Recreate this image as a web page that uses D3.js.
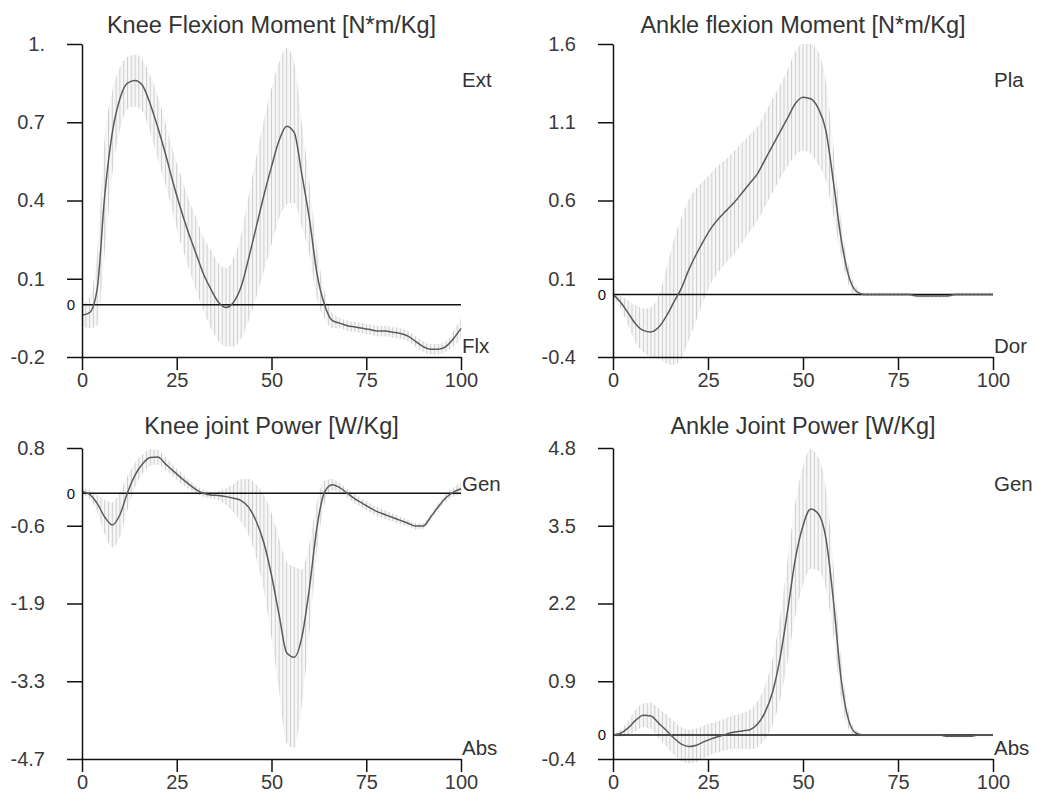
<!DOCTYPE html>
<html>
<head>
<meta charset="utf-8">
<script src="https://cdnjs.cloudflare.com/ajax/libs/d3/7.8.5/d3.min.js"></script>
<style>
  body { margin: 0; background: #fff; }
  svg { display: block; font-family: "Liberation Sans", Arial, sans-serif; }
</style>
</head>
<body>
<svg id="chart"></svg>
<script>
// % of gait cycle, sampled every 2%
const pct = d3.range(0, 101, 2);
const xTicks = [0, 25, 50, 75, 100];

// knee flexion moment [N*m/Kg]
const kneeMomentMean = [-0.04, -0.03, 0.06, 0.42, 0.66, 0.79, 0.85, 0.86, 0.84, 0.77,
  0.68, 0.58, 0.47, 0.37, 0.28, 0.20, 0.12, 0.06, 0.01, -0.01,
  0.01, 0.07, 0.18, 0.30, 0.42, 0.53, 0.63, 0.685, 0.66, 0.50,
  0.33, 0.12, 0.0, -0.06, -0.07, -0.08, -0.085, -0.09, -0.095, -0.10,
  -0.10, -0.105, -0.11, -0.12, -0.14, -0.16, -0.17, -0.17, -0.16, -0.13, -0.09];
const kneeMomentSd = [0.04, 0.06, 0.14, 0.22, 0.16, 0.12, 0.10, 0.10, 0.10, 0.11,
  0.12, 0.12, 0.12, 0.13, 0.13, 0.14, 0.14, 0.15, 0.15, 0.15,
  0.17, 0.20, 0.24, 0.27, 0.29, 0.30, 0.30, 0.30, 0.27, 0.20,
  0.14, 0.10, 0.05, 0.03, 0.02, 0.02, 0.02, 0.02, 0.02, 0.02,
  0.02, 0.02, 0.02, 0.02, 0.02, 0.02, 0.02, 0.02, 0.02, 0.03, 0.04];

// ankle flexion moment [N*m/Kg]
const ankleMomentMean = [0.0, -0.05, -0.12, -0.19, -0.23, -0.24, -0.21, -0.14, -0.05, 0.04,
  0.16, 0.26, 0.35, 0.43, 0.49, 0.54, 0.59, 0.65, 0.71, 0.77,
  0.86, 0.95, 1.04, 1.13, 1.22, 1.26, 1.25, 1.19, 1.05, 0.72,
  0.36, 0.12, 0.02, 0.0, 0.0, 0.0, 0.0, 0.0, 0.0, 0.0,
  -0.01, -0.01, -0.01, -0.01, -0.01, 0.0, 0.0, 0.0, 0.0, 0.0, 0.0];
const ankleMomentSd = [0.01, 0.04, 0.08, 0.12, 0.14, 0.16, 0.20, 0.30, 0.40, 0.45,
  0.45, 0.42, 0.38, 0.35, 0.34, 0.33, 0.33, 0.32, 0.31, 0.30,
  0.30, 0.30, 0.30, 0.31, 0.33, 0.34, 0.35, 0.36, 0.32, 0.22,
  0.12, 0.06, 0.03, 0.01, 0.01, 0.01, 0.01, 0.01, 0.01, 0.01,
  0.01, 0.01, 0.01, 0.01, 0.01, 0.01, 0.01, 0.01, 0.01, 0.01, 0.01];

// knee joint power [W/Kg]
const kneePowerMean = [0.03, -0.02, -0.18, -0.42, -0.56, -0.38, 0.01, 0.32, 0.52, 0.63,
  0.64, 0.52, 0.40, 0.28, 0.17, 0.07, 0.0, -0.03, -0.04, -0.06,
  -0.09, -0.13, -0.25, -0.50, -0.88, -1.45, -2.15, -2.82, -2.90, -2.55,
  -1.68, -0.60, 0.02, 0.15, 0.10, 0.0, -0.10, -0.18, -0.26, -0.33,
  -0.38, -0.43, -0.48, -0.53, -0.58, -0.58, -0.42, -0.24, -0.08, 0.02, 0.08];
const kneePowerSd = [0.05, 0.08, 0.15, 0.30, 0.40, 0.40, 0.30, 0.22, 0.17, 0.15,
  0.13, 0.12, 0.10, 0.10, 0.08, 0.07, 0.06, 0.06, 0.08, 0.15,
  0.25, 0.38, 0.50, 0.65, 0.85, 1.10, 1.35, 1.60, 1.60, 1.20,
  0.80, 0.45, 0.20, 0.10, 0.08, 0.08, 0.08, 0.08, 0.08, 0.08,
  0.08, 0.07, 0.07, 0.06, 0.06, 0.05, 0.05, 0.06, 0.07, 0.08, 0.10];

// ankle joint power [W/Kg]
const anklePowerMean = [0.0, 0.03, 0.12, 0.25, 0.33, 0.32, 0.20, 0.08, -0.05, -0.15,
  -0.19, -0.17, -0.11, -0.06, -0.02, 0.02, 0.05, 0.07, 0.09, 0.18,
  0.38, 0.72, 1.30, 2.10, 2.95, 3.50, 3.78, 3.70, 3.30, 2.25,
  0.95, 0.25, 0.03, 0.0, 0.0, 0.0, 0.0, 0.0, 0.0, 0.0,
  0.0, 0.0, 0.0, 0.0, -0.02, -0.02, -0.02, -0.02, 0.0, 0.0, 0.0];
const anklePowerSd = [0.02, 0.06, 0.12, 0.18, 0.20, 0.22, 0.25, 0.27, 0.28, 0.28,
  0.28, 0.28, 0.27, 0.26, 0.26, 0.27, 0.28, 0.30, 0.33, 0.38,
  0.45, 0.55, 0.70, 0.85, 0.95, 1.00, 1.00, 0.95, 0.85, 0.60,
  0.35, 0.15, 0.05, 0.02, 0.02, 0.02, 0.02, 0.02, 0.02, 0.02,
  0.02, 0.02, 0.02, 0.02, 0.02, 0.02, 0.02, 0.02, 0.02, 0.02, 0.02];

// y tick labels, top to bottom
const kneeMomentTicks = ["1.", "0.7", "0.4", "0.1", "-0.2"];
const ankleMomentTicks = ["1.6", "1.1", "0.6", "0.1", "-0.4"];
const kneePowerTicks = ["0.8", "-0.6", "-1.9", "-3.3", "-4.7"];
const anklePowerTicks = ["4.8", "3.5", "2.2", "0.9", "-0.4"];

const panels = [
  { title: "Knee Flexion Moment [N*m/Kg]", mean: kneeMomentMean, sd: kneeMomentSd,
    domain: [-0.2, 1.0], ticks: kneeMomentTicks, hi: "Ext", lo: "Flx",
    x0: 82, x1: 461, top: 44, bottom: 357, titleY: 33 },
  { title: "Ankle flexion Moment [N*m/Kg]", mean: ankleMomentMean, sd: ankleMomentSd,
    domain: [-0.4, 1.6], ticks: ankleMomentTicks, hi: "Pla", lo: "Dor",
    x0: 613, x1: 993, top: 44, bottom: 357, titleY: 33 },
  { title: "Knee joint Power [W/Kg]", mean: kneePowerMean, sd: kneePowerSd,
    domain: [-4.7, 0.8], ticks: kneePowerTicks, hi: "Gen", lo: "Abs",
    x0: 82, x1: 461, top: 448, bottom: 759, titleY: 434 },
  { title: "Ankle Joint Power [W/Kg]", mean: anklePowerMean, sd: anklePowerSd,
    domain: [-0.4, 4.8], ticks: anklePowerTicks, hi: "Gen", lo: "Abs",
    x0: 613, x1: 993, top: 448, bottom: 759, titleY: 434 }
];

const svg = d3.select("#chart")
  .attr("width", 1037)
  .attr("height", 794);

const defs = svg.append("defs");

panels.forEach((p, k) => {
  const x = d3.scaleLinear().domain([0, 100]).range([p.x0, p.x1]);
  const y = d3.scaleLinear().domain(p.domain).range([p.bottom, p.top]);
  const rows = pct.map((t, i) => ({ t, m: p.mean[i], s: p.sd[i] }));
  const g = svg.append("g");

  // vertical hatching for the SD band, one line per 1% of cycle
  const step = x(1) - x(0);
  const pat = defs.append("pattern")
    .attr("id", "hatch" + k)
    .attr("patternUnits", "userSpaceOnUse")
    .attr("x", p.x0 - 0.5)
    .attr("y", 0)
    .attr("width", step)
    .attr("height", 20);
  pat.append("rect").attr("width", step).attr("height", 20).attr("fill", "#f7f7f7");
  pat.append("line")
    .attr("x1", 0.5).attr("x2", 0.5)
    .attr("y1", 0).attr("y2", 20)
    .attr("stroke", "#cdcdcd")
    .attr("stroke-width", 1);

  const band = d3.area()
    .x(d => x(d.t))
    .y0(d => y(d.m - d.s))
    .y1(d => y(d.m + d.s))
    .curve(d3.curveMonotoneX);

  g.append("path")
    .datum(rows)
    .attr("d", band)
    .attr("fill", "url(#hatch" + k + ")");

  // zero line
  g.append("line")
    .attr("x1", x(0)).attr("x2", x(100))
    .attr("y1", y(0)).attr("y2", y(0))
    .attr("stroke", "#111")
    .attr("stroke-width", 1.5);

  g.append("text")
    .attr("x", p.x0 - 7)
    .attr("y", y(0))
    .attr("dy", "0.36em")
    .attr("text-anchor", "end")
    .attr("font-size", 15)
    .attr("fill", "#111")
    .text("0");

  // mean curve
  const line = d3.line()
    .x(d => x(d.t))
    .y(d => y(d.m))
    .curve(d3.curveMonotoneX);

  g.append("path")
    .datum(rows)
    .attr("d", line)
    .attr("fill", "none")
    .attr("stroke", "#5a5a5a")
    .attr("stroke-width", 1.5);

  // axes
  const [lo, hi] = p.domain;
  const tickVals = d3.range(5).map(i => hi - i * (hi - lo) / 4);

  const yAxis = g.append("g")
    .attr("transform", `translate(${p.x0},0)`)
    .call(d3.axisLeft(y)
      .tickValues(tickVals)
      .tickFormat((d, i) => p.ticks[i])
      .tickSize(15)
      .tickSizeOuter(0)
      .tickPadding(22));

  const xAxis = g.append("g")
    .attr("transform", `translate(0,${p.bottom})`)
    .call(d3.axisBottom(x)
      .tickValues(xTicks)
      .tickSize(13)
      .tickSizeOuter(0)
      .tickPadding(3));

  [yAxis, xAxis].forEach(a => {
    a.selectAll("path, line").attr("stroke", "#111").attr("stroke-width", 1.5);
    a.selectAll("text")
      .attr("font-size", 20)
      .attr("font-family", "Liberation Sans, Arial, sans-serif")
      .attr("fill", "#3a3a3a");
  });

  // title and direction labels
  g.append("text")
    .attr("x", (p.x0 + p.x1) / 2)
    .attr("y", p.titleY)
    .attr("text-anchor", "middle")
    .attr("font-size", 23.5)
    .attr("fill", "#333")
    .text(p.title);

  g.append("text")
    .attr("x", p.x1 + 1)
    .attr("y", p.top + 43)
    .attr("font-size", 20.5)
    .attr("fill", "#333")
    .text(p.hi);

  g.append("text")
    .attr("x", p.x1 + 1)
    .attr("y", p.bottom - 4)
    .attr("font-size", 20.5)
    .attr("fill", "#333")
    .text(p.lo);
});
</script>
</body>
</html>
